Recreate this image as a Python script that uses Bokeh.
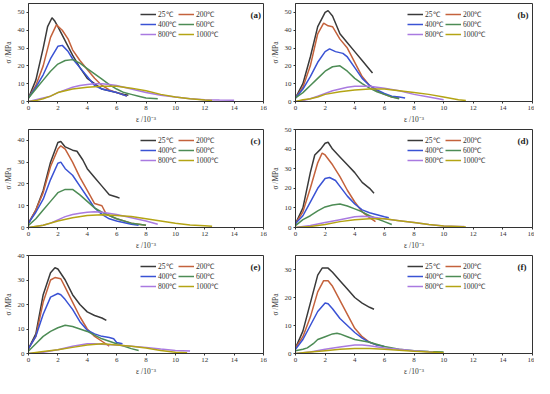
from bokeh.plotting import figure
from bokeh.layouts import gridplot
from bokeh.models import Legend, LegendItem, Label, FixedTicker, Range1d
from bokeh.embed import file_html
from bokeh.resources import INLINE

TEMPS = ["25℃", "200℃", "400℃", "600℃", "800℃", "1000℃"]
COLORS = ["#3a3a3a", "#c4623c", "#3a52d4", "#4d8c55", "#a97ae0", "#b4a414"]
PANELS = ["(a)", "(b)", "(c)", "(d)", "(e)", "(f)"]
Y_MAX = [55, 55, 45, 50, 40, 35]
Y_TICKS = [[0, 10, 20, 30, 40, 50], [0, 10, 20, 30, 40, 50], [0, 10, 20, 30, 40],
           [0, 10, 20, 30, 40, 50], [0, 10, 20, 30, 40], [0, 10, 20, 30]]
X_TICKS = [0, 2, 4, 6, 8, 10, 12, 14, 16]

# ---- panel (a) ----
a25_x = [0, 0.5, 1.0, 1.3, 1.6, 1.8, 2.0, 2.5, 3.0, 3.5, 4.0, 4.5, 5.0, 5.5, 6.0, 6.5, 6.8]
a25_y = [2, 12, 30, 42, 47, 45, 42, 34, 26, 19, 13, 10, 7, 6, 5, 4, 3.5]
a200_x = [0, 0.5, 1.0, 1.5, 1.9, 2.3, 2.7, 3.0, 3.5, 4.0, 4.5, 5.0, 5.5, 6.0, 6.7]
a200_y = [2, 9, 20, 36, 43, 40, 35, 29, 23, 18, 13, 9, 6.5, 5, 3]
a400_x = [0, 0.5, 1.0, 1.5, 2.0, 2.3, 2.7, 3.0, 3.5, 4.0, 4.5, 5.0, 5.5, 6.0, 6.7]
a400_y = [2, 8, 15, 24, 31, 31.5, 28, 24, 19, 14, 9, 7, 6, 5, 3]
a600_x = [0, 0.5, 1.0, 1.5, 2.0, 2.5, 3.0, 3.5, 4.0, 4.5, 5.0, 5.5, 6.0, 6.5, 7.0, 7.5, 8.0, 8.8]
a600_y = [2, 7, 12, 17, 21, 23, 23.5, 21.5, 18.5, 15.5, 12.5, 9.5, 7, 5, 4, 3, 2, 1.5]
a800_x = [0, 0.5, 1.0, 1.5, 2.0, 2.5, 3.0, 3.5, 4.0, 4.5, 5.0, 5.5, 6.0, 7.0, 8.0, 9.0, 10.0, 11.0, 12.0, 13.0, 14.0]
a800_y = [0, 1, 2, 3, 5, 6.5, 8, 9, 9.5, 10, 10, 9.5, 9, 7, 5, 3.5, 2.5, 1.5, 1, 0.8, 0.7]
a1000_x = [0, 0.5, 1.0, 1.5, 2.0, 2.5, 3.0, 4.0, 5.0, 6.0, 7.0, 8.0, 9.0, 10.0, 11.0, 12.0, 12.5]
a1000_y = [0, 0.5, 1.5, 3, 5, 6, 7, 8, 8.5, 8.5, 7.5, 6, 4, 2.5, 1.5, 0.8, 0.5]

# ---- panel (b) ----
b25_x = [0, 0.5, 1.0, 1.5, 2.0, 2.2, 2.5, 3.0, 3.5, 4.0, 4.5, 5.0, 5.2]
b25_y = [2, 10, 25, 42, 50, 51, 48, 38, 33, 28, 23, 18, 16]
b200_x = [0, 0.5, 1.0, 1.5, 1.9, 2.2, 2.5, 3.0, 3.5, 4.0, 4.5, 5.0, 5.5, 6.0, 6.5, 7.0]
b200_y = [2, 8, 20, 38, 44, 42.5, 42, 35, 30, 22, 14, 9, 6, 4, 2.5, 2]
b400_x = [0, 0.5, 1.0, 1.5, 2.0, 2.3, 2.7, 3.2, 3.5, 4.0, 4.5, 5.0, 5.5, 6.0, 6.5, 7.0, 7.4]
b400_y = [2, 7, 14, 22, 28, 29.5, 28, 27, 25, 19, 13, 9, 6.5, 4.5, 3, 2.5, 2]
b600_x = [0, 0.5, 1.0, 1.5, 2.0, 2.5, 3.0, 3.5, 4.0, 4.5, 5.0, 5.5, 6.0, 6.5, 7.0]
b600_y = [2, 5, 9, 13, 17, 19.5, 20, 17, 13, 10, 7.5, 5.5, 4, 2.5, 1.5]
b800_x = [0, 0.5, 1.0, 1.5, 2.0, 2.5, 3.0, 3.5, 4.0, 5.0, 6.0, 7.0, 8.0, 9.0, 10.0]
b800_y = [0, 0.5, 1.5, 3, 4.5, 6, 7, 8, 8.5, 8.5, 7.5, 6, 4, 2.5, 1]
b1000_x = [0, 0.5, 1.0, 1.5, 2.0, 3.0, 4.0, 5.0, 6.0, 7.0, 8.0, 9.0, 10.0, 11.0, 11.5]
b1000_y = [0, 1, 1.5, 2.5, 4, 5.5, 6.5, 7, 7, 6, 5, 4, 2.5, 1, 0.5]

# ---- panel (c) ----
c25_x = [0, 0.5, 1.0, 1.5, 2.0, 2.2, 2.5, 3.0, 3.3, 3.7, 4.0, 4.5, 5.0, 5.5, 6.0, 6.2]
c25_y = [2, 8, 17, 30, 39, 39.5, 37, 35.5, 35, 31, 27, 23, 19, 15, 14, 13.5]
c200_x = [0, 0.5, 1.0, 1.5, 2.0, 2.2, 2.5, 3.0, 3.5, 4.0, 4.5, 5.0, 5.3, 6.0, 7.0, 8.0]
c200_y = [2, 8, 16, 28, 36, 37.5, 36, 30, 23, 17, 11, 10, 6, 4, 2, 1]
c400_x = [0, 0.5, 1.0, 1.5, 2.0, 2.2, 2.5, 3.0, 3.5, 4.0, 4.5, 5.0, 5.5, 6.0, 7.0, 7.5]
c400_y = [2, 7, 13, 22, 29.5, 30, 27, 24, 19, 14, 9, 6, 4, 3, 1.5, 1]
c600_x = [0, 0.5, 1.0, 1.5, 2.0, 2.5, 3.0, 3.5, 4.0, 4.5, 5.0, 5.5, 6.0, 7.0, 8.0]
c600_y = [1, 4, 8, 12, 16, 17.5, 17.5, 15, 12, 9, 7, 5.5, 4, 2, 1]
c800_x = [0, 0.5, 1.0, 1.5, 2.0, 2.5, 3.0, 3.5, 4.0, 4.5, 5.0, 6.0, 7.0, 8.0, 8.8]
c800_y = [0, 0.5, 1, 2, 3.5, 5, 6, 6.5, 7, 7.2, 7, 6, 4.5, 3, 1.5]
c1000_x = [0, 1.0, 2.0, 3.0, 4.0, 5.0, 6.0, 7.0, 8.0, 9.0, 10.0, 11.0, 12.0, 12.5]
c1000_y = [0, 1, 3, 4.5, 5.5, 5.8, 5.5, 5, 4, 3, 2, 1.2, 0.8, 0.6]

# ---- panel (d) ----
d25_x = [0, 0.5, 1.0, 1.3, 1.7, 2.0, 2.2, 2.5, 3.0, 3.5, 4.0, 4.5, 5.0, 5.3]
d25_y = [2, 10, 28, 37, 40, 43, 43.5, 40, 36, 32, 28, 23, 20, 17.5]
d200_x = [0, 0.5, 1.0, 1.5, 1.8, 2.0, 2.5, 3.0, 3.5, 4.0, 4.5, 5.0, 5.4]
d200_y = [2, 8, 20, 33, 38, 37, 32, 26, 19, 13, 8, 5, 3]
d400_x = [0, 0.5, 1.0, 1.5, 2.0, 2.3, 2.7, 3.0, 3.5, 4.0, 4.5, 5.0, 5.5, 6.0, 6.3]
d400_y = [2, 6, 13, 20, 25, 25.5, 24, 21, 16, 12, 9, 7.5, 6.5, 5.5, 5]
d600_x = [0, 0.5, 1.0, 1.5, 2.0, 2.5, 3.0, 3.5, 4.0, 4.5, 5.0, 5.5, 6.0, 6.5]
d600_y = [1, 4, 6, 8.5, 10.5, 11.5, 12, 11, 9.5, 8, 6, 4.5, 3, 1.5]
d800_x = [0, 1.0, 2.0, 3.0, 4.0, 4.5, 5.0, 6.0, 7.0, 8.0, 9.0, 10.0, 11.0, 11.4]
d800_y = [0, 1, 2.5, 4, 5.5, 5.8, 5.5, 4.5, 3.5, 2.5, 1.5, 0.8, 0.5, 0.5]
d1000_x = [0, 1.0, 2.0, 3.0, 4.0, 5.0, 6.0, 7.0, 8.0, 9.0, 10.0, 11.0, 11.5]
d1000_y = [0, 0.5, 1.5, 3, 4, 4.5, 4.5, 3.5, 2.5, 1.5, 0.8, 0.5, 0.3]

# ---- panel (e) ----
e25_x = [0, 0.5, 1.0, 1.5, 1.8, 2.0, 2.5, 3.0, 3.5, 4.0, 4.5, 5.0, 5.3]
e25_y = [2, 8, 24, 33, 35, 34.5, 30, 24, 20, 17, 15.5, 14.5, 13.5]
e200_x = [0, 0.5, 1.0, 1.5, 1.8, 2.2, 2.5, 3.0, 3.5, 4.0, 4.5, 5.0, 5.5]
e200_y = [2, 7, 21, 30, 31, 30.5, 27, 21, 15, 10, 7, 5, 3]
e400_x = [0, 0.5, 1.0, 1.5, 2.0, 2.2, 2.5, 3.0, 3.5, 4.0, 4.5, 5.0, 5.5, 5.8, 6.0, 6.4]
e400_y = [2, 7, 16, 23, 24.5, 24, 22, 18, 13, 9.5, 8, 7, 6.5, 6, 4.5, 4]
e600_x = [0, 0.5, 1.0, 1.5, 2.0, 2.5, 3.0, 3.5, 4.0, 4.5, 5.0, 6.0, 7.0, 7.5]
e600_y = [1, 4, 7, 9, 10.5, 11.5, 11, 10, 9, 7.5, 6, 4, 2, 1.2]
e800_x = [0, 1.0, 2.0, 3.0, 4.0, 4.5, 5.0, 6.0, 7.0, 8.0, 9.0, 10.0, 11.0]
e800_y = [0, 0.5, 1.5, 3, 4, 4, 3.8, 3.5, 3, 2.5, 1.8, 1.2, 1]
e1000_x = [0, 1.0, 2.0, 3.0, 4.0, 5.0, 6.0, 7.0, 8.0, 9.0, 10.0, 10.8]
e1000_y = [0, 0.8, 1.5, 2.5, 3.5, 4, 3.5, 3, 2.2, 1.2, 0.5, 0.3]

# ---- panel (f) ----
f25_x = [0, 0.5, 1.0, 1.5, 1.8, 2.2, 2.5, 3.0, 3.5, 4.0, 4.5, 5.0, 5.3]
f25_y = [2, 8, 18, 28, 30.5, 30.5, 29, 26, 23, 20, 18, 16.5, 15.8]
f200_x = [0, 0.5, 1.0, 1.5, 1.9, 2.2, 2.5, 3.0, 3.5, 4.0, 4.5, 5.0, 5.5]
f200_y = [2, 6, 13, 22, 26, 26, 24, 19, 14, 9, 6, 4, 3]
f400_x = [0, 0.5, 1.0, 1.5, 2.0, 2.2, 2.5, 3.0, 3.5, 4.0, 4.5, 5.0, 5.5, 6.0]
f400_y = [1.5, 5, 10, 15, 18, 17.8, 16, 12.5, 10, 7.5, 5.5, 4, 3, 2.5]
f600_x = [0, 0.5, 0.8, 1.2, 1.5, 2.0, 2.5, 2.8, 3.0, 3.5, 4.0, 5.0, 6.0, 7.0, 8.0, 9.0, 10.0]
f600_y = [1, 1.5, 2, 3.5, 5, 6, 7, 7.2, 7, 6, 5, 4, 2.5, 1.5, 1, 0.7, 0.5]
f800_x = [0, 1.0, 2.0, 3.0, 4.0, 4.5, 5.0, 6.0, 7.0, 8.0, 9.0, 9.3]
f800_y = [0, 0.5, 1.5, 2.3, 3, 3, 2.8, 2, 1.5, 1, 0.6, 0.5]
f1000_x = [0, 1.0, 2.0, 3.0, 4.0, 5.0, 6.0, 7.0, 8.0, 9.0, 10.0]
f1000_y = [0, 0.5, 1, 1.5, 1.8, 1.8, 1.5, 1.2, 0.8, 0.5, 0.3]

DATA = [
    [(a25_x, a25_y), (a200_x, a200_y), (a400_x, a400_y), (a600_x, a600_y), (a800_x, a800_y), (a1000_x, a1000_y)],
    [(b25_x, b25_y), (b200_x, b200_y), (b400_x, b400_y), (b600_x, b600_y), (b800_x, b800_y), (b1000_x, b1000_y)],
    [(c25_x, c25_y), (c200_x, c200_y), (c400_x, c400_y), (c600_x, c600_y), (c800_x, c800_y), (c1000_x, c1000_y)],
    [(d25_x, d25_y), (d200_x, d200_y), (d400_x, d400_y), (d600_x, d600_y), (d800_x, d800_y), (d1000_x, d1000_y)],
    [(e25_x, e25_y), (e200_x, e200_y), (e400_x, e400_y), (e600_x, e600_y), (e800_x, e800_y), (e1000_x, e1000_y)],
    [(f25_x, f25_y), (f200_x, f200_y), (f400_x, f400_y), (f600_x, f600_y), (f800_x, f800_y), (f1000_x, f1000_y)],
]

# legend fills column by column: this order gives rows 25/200, 400/600, 800/1000
LEGEND_ORDER = [0, 2, 4, 1, 3, 5]

FONT = "Liberation Serif"
W, H = 267, 126


def make_panel(i):
    left_col = (i % 2 == 0)
    p = figure(width=W, height=H, output_backend="svg", toolbar_location=None,
               x_range=Range1d(0, 16), y_range=Range1d(0, Y_MAX[i]),
               min_border_left=22 if left_col else 24, min_border_right=4 if left_col else 2,
               min_border_top=3, min_border_bottom=2)
    p.grid.visible = False
    p.outline_line_color = "#333333"
    p.outline_line_width = 1
    p.background_fill_color = "white"
    p.border_fill_color = "white"
    for ax in (p.xaxis[0], p.yaxis[0]):
        ax.major_label_text_font = FONT
        ax.major_label_text_font_size = "7px"
        ax.major_label_text_color = "#333333"
        ax.axis_label_text_font = FONT
        ax.axis_label_text_font_size = "7.5px"
        ax.axis_label_text_font_style = "normal"
        ax.axis_label_text_color = "#333333"
        ax.axis_line_color = "#333333"
        ax.major_tick_line_color = "#333333"
        ax.major_tick_in = 0
        ax.major_tick_out = 2
        ax.minor_tick_line_color = None
        ax.major_label_standoff = 2
        ax.axis_label_standoff = 2
    p.xaxis.ticker = FixedTicker(ticks=X_TICKS)
    p.yaxis.ticker = FixedTicker(ticks=Y_TICKS[i])
    p.xaxis.axis_label = "ε /10⁻³"
    p.yaxis.axis_label = "σ /MPa"

    items = []
    for k, (xs, ys) in enumerate(DATA[i]):
        r = p.line(xs, ys, line_color=COLORS[k], line_width=1.5)
        items.append(LegendItem(label=TEMPS[k], renderers=[r]))
    items = [items[k] for k in LEGEND_ORDER]

    legend = Legend(items=items, ncols=2, location=(112, 62),
                    label_text_font=FONT, label_text_font_size="7.5px",
                    label_text_color="#333333",
                    glyph_width=16, glyph_height=8, label_height=8,
                    label_standoff=2, spacing=0, padding=1, margin=0,
                    border_line_color=None, background_fill_alpha=0)
    p.add_layout(legend, "center")

    lab = Label(x=222, y=82, x_units="screen", y_units="screen", text=PANELS[i],
                text_font=FONT, text_font_size="9px", text_font_style="bold",
                text_color="#222222")
    p.add_layout(lab)
    return p


panels = [make_panel(i) for i in range(6)]
grid = gridplot([[panels[0], panels[1]], [panels[2], panels[3]], [panels[4], panels[5]]],
                toolbar_location=None)

open("out.html", "w").write(file_html(grid, INLINE))
